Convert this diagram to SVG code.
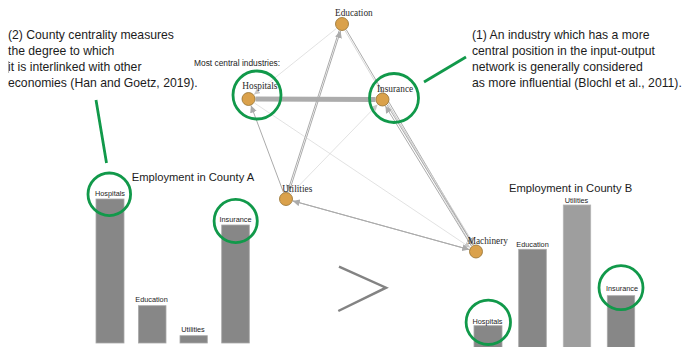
<svg xmlns="http://www.w3.org/2000/svg" width="687" height="347" viewBox="0 0 687 347">
<defs>
<style>
.note{font-family:"Liberation Sans",Arial,sans-serif;font-size:12.2px;fill:#1c1c1c}
.title{font-family:"Liberation Sans",Arial,sans-serif;font-size:11.2px;fill:#1c1c1c}
.bl{font-family:"Liberation Sans",Arial,sans-serif;font-size:7.3px;fill:#1c1c1c;text-anchor:middle}
.nl{font-family:"Liberation Serif","Times New Roman",serif;font-size:9.3px;fill:#2a2a2a}
.small{font-family:"Liberation Sans",Arial,sans-serif;font-size:8.4px;fill:#1c1c1c}
.bar{fill:#878787;stroke:#a8a8a8;stroke-width:0.8}
.bar2{fill:#9e9e9e;stroke:#b4b4b4;stroke-width:0.8}
.ring{fill:none;stroke:#11994a;stroke-width:2.8}
.node{fill:#daa14b;stroke:#94702f;stroke-width:0.8}
.e{fill:none;stroke:#ababab;stroke-width:1}
.ef{fill:none;stroke:#d6d6d6;stroke-width:0.7}
</style>
<marker id="ah" viewBox="0 0 10 10" refX="10" refY="5" markerWidth="7" markerHeight="7" markerUnits="userSpaceOnUse" orient="auto">
<path d="M0,0 L10,5 L0,10 z" fill="#ababab"/>
</marker>
<marker id="ahf" viewBox="0 0 10 10" refX="10" refY="5" markerWidth="6" markerHeight="6" markerUnits="userSpaceOnUse" orient="auto">
<path d="M0,0 L10,5 L0,10 z" fill="#c8c8c8"/>
</marker>
</defs>
<rect width="687" height="347" fill="#ffffff"/>

<g id="notes">
<text class="note" x="8" y="38.5">(2) County centrality measures</text>
<text class="note" x="8" y="54.5">the degree to which</text>
<text class="note" x="8" y="70.5">it is interlinked with other</text>
<text class="note" x="8" y="87">economies (Han and Goetz, 2019).</text>
<line x1="8.6" y1="61" x2="8.6" y2="73" stroke="#9a9a9a" stroke-width="0.7"/>
<text class="note" x="472" y="38.5">(1) An industry which has a more</text>
<text class="note" x="472" y="54.5">central position in the input-output</text>
<text class="note" x="472" y="70.5">network is generally considered</text>
<text class="note" x="472" y="87">as more influential (Blochl et al., 2011).</text>
<line x1="96" y1="100" x2="106.5" y2="163" stroke="#11994a" stroke-width="2.8"/>
<line x1="424" y1="82" x2="466" y2="57" stroke="#11994a" stroke-width="2.8"/>
<text class="small" x="194" y="66">Most central industries:</text>
</g>

<g id="connectors">
<line x1="255.5" y1="99" x2="375.5" y2="99.5" stroke="#acacac" stroke-width="5"/>
<line class="e" x1="283.5" y1="192.5" x2="251" y2="105.6" marker-end="url(#ah)"/>
<line class="e" x1="288.9" y1="192.6" x2="340.6" y2="30.9" marker-end="url(#ah)"/>
<line class="e" x1="339.2" y1="30.4" x2="287.4" y2="192.1" marker-end="url(#ah)"/>
<line class="ef" x1="290.9" y1="194" x2="377.6" y2="104.5" marker-end="url(#ahf)"/>
<line class="ef" x1="254.3" y1="102.9" x2="470.2" y2="247.6" marker-end="url(#ahf)"/>
<line class="ef" x1="336.5" y1="28.4" x2="254" y2="94.6" marker-end="url(#ahf)"/>
<line class="e" x1="346.2" y1="29.6" x2="473.1" y2="245" marker-end="url(#ah)"/>
<line x1="344.9" y1="30.4" x2="471.8" y2="245.9" stroke="#cfcfcf" stroke-width="0.8"/>
<line class="e" x1="471.4" y1="246" x2="385.4" y2="106" marker-end="url(#ah)"/>
<line class="e" x1="387.1" y1="105" x2="473.2" y2="245" marker-end="url(#ah)"/>
<line x1="388.2" y1="104.3" x2="474" y2="244.3" stroke="#cfcfcf" stroke-width="0.8"/>
<line class="e" x1="292.75" y1="200.9" x2="469.25" y2="249.6" marker-end="url(#ah)"/>
<line class="e" x1="469.25" y1="249.6" x2="292.75" y2="200.9" marker-end="url(#ah)"/>
</g>

<g id="node-education">
<circle class="node" cx="342" cy="24" r="6.5"/>
<text class="nl" x="335" y="16">Education</text>
</g>
<g id="node-hospitals">
<circle class="node" cx="248.5" cy="99" r="6.5"/>
<text class="nl" x="242.3" y="89">Hospitals</text>
<circle class="ring" cx="257" cy="95" r="24"/>
</g>
<g id="node-insurance">
<circle class="node" cx="382.5" cy="99.5" r="6.5"/>
<text class="nl" x="377" y="92">Insurance</text>
<circle class="ring" cx="394" cy="98" r="24.5"/>
</g>
<g id="node-utilities">
<circle class="node" cx="286" cy="199" r="6.5"/>
<text class="nl" x="282.3" y="191.5">Utilities</text>
</g>
<g id="node-machinery">
<circle class="node" cx="476" cy="251.5" r="6.5"/>
<text class="nl" x="467.7" y="243.5">Machinery</text>
</g>

<g id="chart-a">
<text class="title" x="131.7" y="181">Employment in County A</text>
<rect class="bar" x="96" y="199" width="28" height="144"/>
<rect class="bar" x="138.5" y="305.7" width="27.5" height="37.3"/>
<rect class="bar" x="180" y="335.7" width="27.3" height="7.3"/>
<rect class="bar" x="221.7" y="225" width="27.6" height="118"/>
<text class="bl" x="110" y="195.5">Hospitals</text>
<text class="bl" x="151.5" y="301.5">Education</text>
<text class="bl" x="193" y="331.5">Utilities</text>
<text class="bl" x="235.5" y="221.5">Insurance</text>
<circle class="ring" cx="109.3" cy="194.3" r="21.3"/>
<circle class="ring" cx="235.7" cy="221" r="21.6"/>
</g>

<g id="chart-b">
<text class="title" x="509" y="192">Employment in County B</text>
<rect class="bar" x="474" y="325.7" width="28" height="30"/>
<rect class="bar" x="518.7" y="249.3" width="27.6" height="110"/>
<rect class="bar2" x="563.3" y="205" width="27.4" height="150"/>
<rect class="bar" x="607.3" y="295.7" width="27.4" height="60"/>
<text class="bl" x="487.5" y="323.5">Hospitals</text>
<text class="bl" x="532.5" y="246.5">Education</text>
<text class="bl" x="576.5" y="202.5">Utilities</text>
<text class="bl" x="622" y="290.5">Insurance</text>
<circle class="ring" cx="488.3" cy="322.3" r="22.2"/>
<circle class="ring" cx="621" cy="287.7" r="22"/>
</g>

<g id="comparison">
<polyline points="339,266.7 386,287.7 338.3,311" fill="none" stroke="#838383" stroke-width="2.5"/>
</g>
</svg>
